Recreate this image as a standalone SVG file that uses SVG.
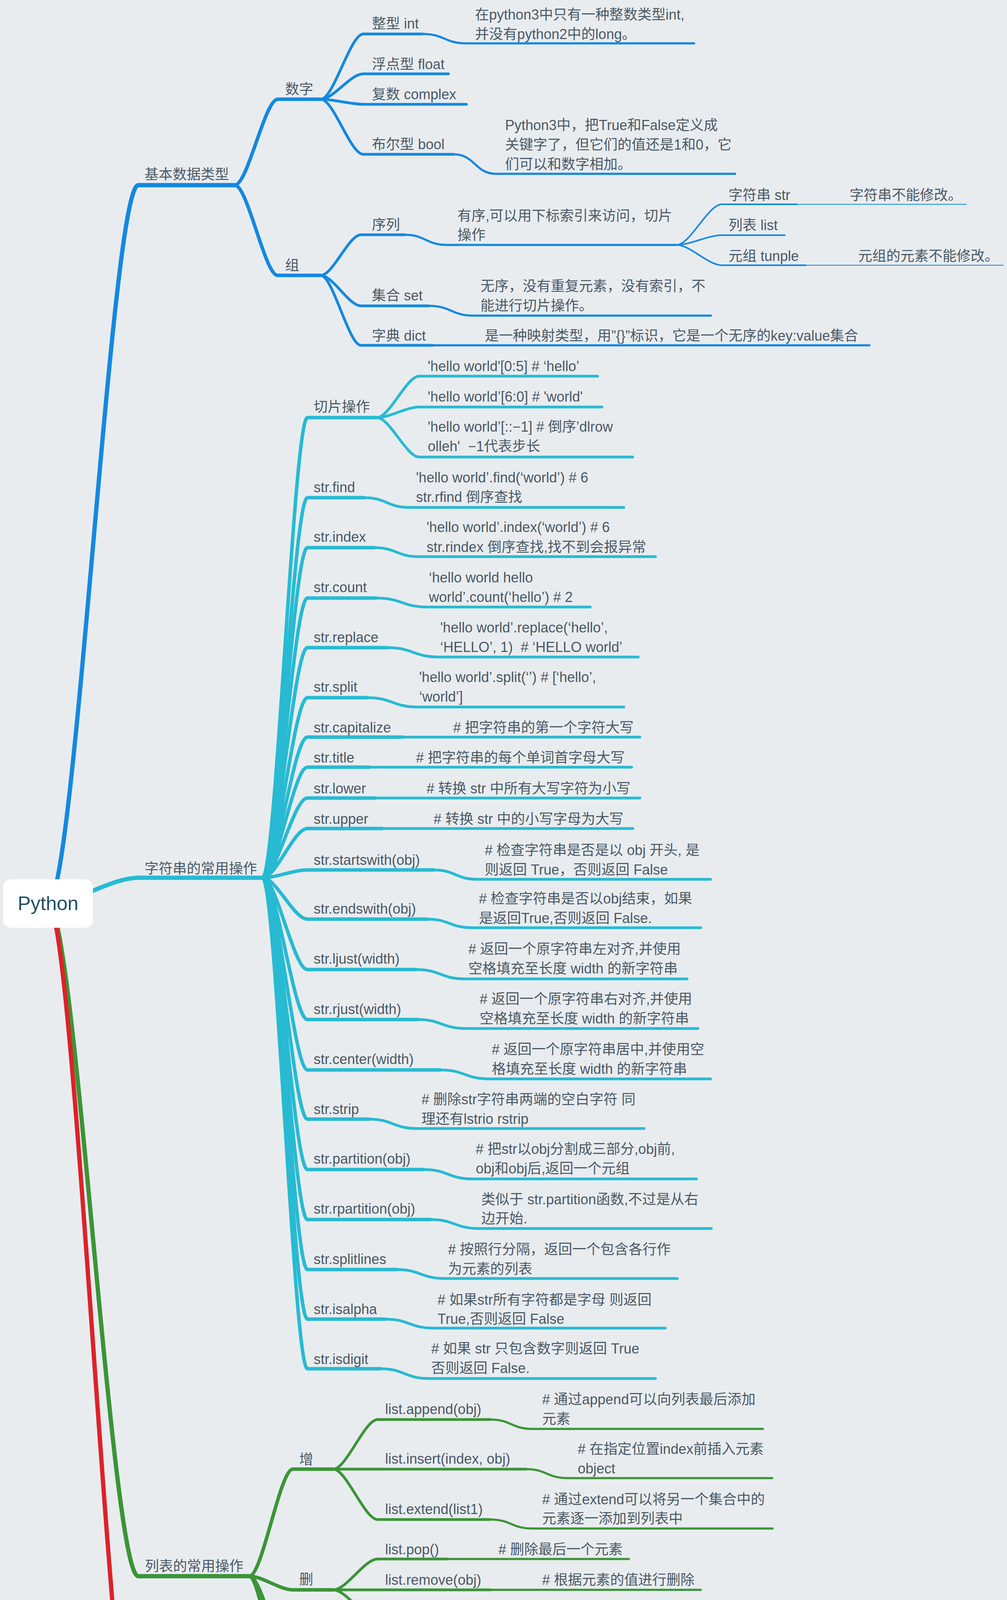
<svg xmlns="http://www.w3.org/2000/svg" width="2578" height="4626" viewBox="0 0 2578 4626">
<style>
.t{font-family:"Liberation Sans","Noto Sans CJK SC",sans-serif;font-size:36px;fill:#4a5864}
.root{font-family:"Liberation Sans","Noto Sans CJK SC",sans-serif;font-size:50px;fill:#1f5068}
path{fill:none;stroke-linecap:round;stroke-linejoin:round}
.b{stroke:#1488e0}.c{stroke:#27bad2}.g{stroke:#3b9436}.r{stroke:#de2129}
.w1{stroke-width:11}.w2{stroke-width:9}.w3{stroke-width:7}.w4{stroke-width:5.5}.w5{stroke-width:4}.w6{stroke-width:2.2}
</style>
<rect width="2578" height="4626" fill="#e8ecef"/>
<g id="connectors">
<path class="b w1" d="M123 2313 C192 2313 285 474 354 474 H601"/>
<path class="c w1" d="M123 2313 C192 2313 285 2247 354 2247 H672"/>
<path class="g w1" d="M123 2313 C192 2313 285 4035 354 4035 H638"/>
<path class="r w1" d="M123 2313 C192 2313 285 4578 354 4578 H853"/>
<path class="b w2" d="M601 474 C634 474 678 254 711 254 H821"/>
<path class="b w2" d="M601 474 C634 474 678 705 711 705 H821"/>
<path class="b w3" d="M821 254 C854 254 897 87 930 87 H1082"/>
<path class="b w4" d="M1082 87 C1138 87 1138 111 1194 111 H1777"/>
<path class="b w3" d="M821 254 C854 254 897 189 930 189 H1148"/>
<path class="b w3" d="M821 254 C854 254 897 267 930 267 H1194"/>
<path class="b w3" d="M821 254 C854 254 897 395 930 395 H1161"/>
<path class="b w4" d="M1161 395 C1216 395 1216 445 1270 445 H1882"/>
<path class="b w3" d="M821 705 C852 705 893 601 924 601 H1036"/>
<path class="b w4" d="M1036 601 C1090 601 1090 627 1144 627 H1732"/>
<path class="b w3" d="M821 705 C852 705 893 783 924 783 H1098"/>
<path class="b w4" d="M1098 783 C1155 783 1155 808 1213 808 H1820"/>
<path class="b w3" d="M821 705 C852 705 893 884 924 884 H1109"/>
<path class="b w4" d="M1109 884 H2226"/>
<path class="b w5" d="M1732 627 C1767 627 1813 523 1848 523 H2040"/>
<path class="b w6" d="M2040 523 H2474"/>
<path class="b w5" d="M1732 627 C1767 627 1813 602 1848 602 H2009"/>
<path class="b w5" d="M1732 627 C1767 627 1813 679 1848 679 H2063"/>
<path class="b w6" d="M2063 679 H2568"/>
<path class="c w2" d="M672 2247 C707 2247 752 1069 787 1069 H965"/>
<path class="c w3" d="M965 1069 C997 1069 1041 963 1073 963 H1530"/>
<path class="c w3" d="M965 1069 C997 1069 1041 1042 1073 1042 H1541"/>
<path class="c w3" d="M965 1069 C997 1069 1041 1170 1073 1170 H1620"/>
<path class="c w2" d="M672 2247 C707 2247 752 1274 787 1274 H932"/>
<path class="c w3" d="M932 1274 C990 1274 990 1299 1048 1299 H1597"/>
<path class="c w2" d="M672 2247 C707 2247 752 1402 787 1402 H958"/>
<path class="c w3" d="M958 1402 C1015 1402 1015 1425 1073 1425 H1678"/>
<path class="c w2" d="M672 2247 C707 2247 752 1531 787 1531 H963"/>
<path class="c w3" d="M963 1531 C1029 1531 1029 1554 1095 1554 H1511"/>
<path class="c w2" d="M672 2247 C707 2247 752 1658 787 1658 H992"/>
<path class="c w3" d="M992 1658 C1058 1658 1058 1682 1125 1682 H1634"/>
<path class="c w2" d="M672 2247 C707 2247 752 1786 787 1786 H940"/>
<path class="c w3" d="M940 1786 C1005 1786 1005 1810 1070 1810 H1597"/>
<path class="c w2" d="M672 2247 C707 2247 752 1887 787 1887 H1030"/>
<path class="c w3" d="M1030 1887 H1638"/>
<path class="c w2" d="M672 2247 C707 2247 752 1964 787 1964 H945"/>
<path class="c w3" d="M945 1964 H1617"/>
<path class="c w2" d="M672 2247 C707 2247 752 2043 787 2043 H960"/>
<path class="c w3" d="M960 2043 H1638"/>
<path class="c w2" d="M672 2247 C707 2247 752 2121 787 2121 H978"/>
<path class="c w3" d="M978 2121 H1620"/>
<path class="c w2" d="M672 2247 C707 2247 752 2227 787 2227 H1110"/>
<path class="c w3" d="M1110 2227 C1166 2227 1166 2251 1222 2251 H1819"/>
<path class="c w2" d="M672 2247 C707 2247 752 2353 787 2353 H1093"/>
<path class="c w3" d="M1093 2353 C1151 2353 1151 2375 1210 2375 H1794"/>
<path class="c w2" d="M672 2247 C707 2247 752 2482 787 2482 H1065"/>
<path class="c w3" d="M1065 2482 C1128 2482 1128 2506 1190 2506 H1759"/>
<path class="c w2" d="M672 2247 C707 2247 752 2610 787 2610 H1069"/>
<path class="c w3" d="M1069 2610 C1131 2610 1131 2633 1194 2633 H1787"/>
<path class="c w2" d="M672 2247 C707 2247 752 2739 787 2739 H1127"/>
<path class="c w3" d="M1127 2739 C1190 2739 1190 2762 1252 2762 H1819"/>
<path class="c w2" d="M672 2247 C707 2247 752 2865 787 2865 H944"/>
<path class="c w3" d="M944 2865 C1006 2865 1006 2889 1069 2889 H1649"/>
<path class="c w2" d="M672 2247 C707 2247 752 2994 787 2994 H1085"/>
<path class="c w3" d="M1085 2994 C1147 2994 1147 3018 1210 3018 H1783"/>
<path class="c w2" d="M672 2247 C707 2247 752 3122 787 3122 H1102"/>
<path class="c w3" d="M1102 3122 C1164 3122 1164 3145 1227 3145 H1821"/>
<path class="c w2" d="M672 2247 C707 2247 752 3250 787 3250 H1015"/>
<path class="c w3" d="M1015 3250 C1077 3250 1077 3273 1140 3273 H1734"/>
<path class="c w2" d="M672 2247 C707 2247 752 3377 787 3377 H986"/>
<path class="c w3" d="M986 3377 C1048 3377 1048 3400 1111 3400 H1703"/>
<path class="c w2" d="M672 2247 C707 2247 752 3504 787 3504 H974"/>
<path class="c w3" d="M974 3504 C1036 3504 1036 3529 1099 3529 H1678"/>
<path class="g w2" d="M638 4035 C672 4035 716 3761 750 3761 H853"/>
<path class="g w2" d="M638 4035 C672 4035 716 4070 750 4070 H853"/>
<path class="g w2" d="M638 4035 C672 4035 716 4265 750 4265 H853"/>
<path class="g w2" d="M638 4035 C672 4035 716 4422 750 4422 H853"/>
<path class="g w3" d="M853 3761 C887 3761 933 3634 967 3634 H1255"/>
<path class="g w4" d="M1255 3634 C1309 3634 1309 3658 1363 3658 H1953"/>
<path class="g w3" d="M853 3761 H1347"/>
<path class="g w4" d="M1347 3761 C1400 3761 1400 3784 1454 3784 H1977"/>
<path class="g w3" d="M853 3761 C887 3761 933 3890 967 3890 H1255"/>
<path class="g w4" d="M1255 3890 C1309 3890 1309 3913 1363 3913 H1978"/>
<path class="g w3" d="M853 4070 C887 4070 933 3991 967 3991 H1144"/>
<path class="g w4" d="M1144 3991 H1610"/>
<path class="g w3" d="M853 4070 H1256"/>
<path class="g w4" d="M1256 4070 H1794"/>
<path class="g w3" d="M853 4070 C887 4070 933 4147 967 4147 H1222"/>
<path class="g w4" d="M1222 4147 H1688"/>
<path class="g w3" d="M853 4265 C887 4265 933 4225 967 4225 H1075"/>
<path class="g w3" d="M853 4265 C887 4265 933 4304 967 4304 H1095"/>
<path class="g w3" d="M853 4422 C887 4422 933 4381 967 4381 H1145"/>
<path class="g w4" d="M1145 4381 H1833"/>
<path class="g w3" d="M853 4422 C887 4422 933 4459 967 4459 H1202"/>
<path class="g w4" d="M1202 4459 H1523"/>
<path class="r w2" d="M638 4578 H853"/>
<path class="r w3" d="M853 4578 C887 4578 933 4538 967 4538 H1168"/>
<path class="r w3" d="M853 4578 C887 4578 933 4615 967 4615 H1197"/>
</g>
<g id="node-python">
<rect x="8" y="2251" width="230" height="124" rx="20" fill="#ffffff"/>
<text class="root" x="123" y="2330" text-anchor="middle">Python</text>
</g>
<g id="node-basic"><text class="t" x="370" y="459">基本数据类型</text></g>
<g id="node-number"><text class="t" x="730" y="241">数字</text></g>
<g id="node-int">
<text class="t" x="952" y="73">整型 int</text>
<text class="t" x="1216" y="50">在python3中只有一种整数类型int,</text>
<text class="t" x="1216" y="100">并没有python2中的long。</text>
</g>
<g id="node-float"><text class="t" x="952" y="177">浮点型 float</text></g>
<g id="node-complex"><text class="t" x="952" y="254">复数 complex</text></g>
<g id="node-bool">
<text class="t" x="952" y="382">布尔型 bool</text>
<text class="t" x="1293" y="333">Python3中，把True和False定义成</text>
<text class="t" x="1293" y="383">关键字了，但它们的值还是1和0，它</text>
<text class="t" x="1293" y="433">们可以和数字相加。</text>
</g>
<g id="node-group"><text class="t" x="730" y="692">组</text></g>
<g id="node-seq">
<text class="t" x="952" y="588">序列</text>
<text class="t" x="1171" y="565">有序,可以用下标索引来访问，切片</text>
<text class="t" x="1171" y="614">操作</text>
</g>
<g id="node-str-type">
<text class="t" x="1865" y="512">字符串 str</text>
<text class="t" x="2175" y="512">字符串不能修改。</text>
</g>
<g id="node-list-type"><text class="t" x="1865" y="589">列表 list</text></g>
<g id="node-tuple-type">
<text class="t" x="1865" y="668">元组 tunple</text>
<text class="t" x="2197" y="668">元组的元素不能修改。</text>
</g>
<g id="node-set">
<text class="t" x="952" y="769">集合 set</text>
<text class="t" x="1230" y="745">无序，没有重复元素，没有索引，不</text>
<text class="t" x="1230" y="795">能进行切片操作。</text>
</g>
<g id="node-dict">
<text class="t" x="952" y="872">字典 dict</text>
<text class="t" x="1241" y="872">是一种映射类型，用”{}”标识，它是一个无序的key:value集合</text>
</g>
<g id="node-strops"><text class="t" x="370" y="2236">字符串的常用操作</text></g>
<g id="node-slice">
<text class="t" x="803" y="1054">切片操作</text>
<text class="t" x="1095" y="950">'hello world'[0:5] # ‘hello’</text>
<text class="t" x="1095" y="1028">'hello world’[6:0] # 'world'</text>
<text class="t" x="1095" y="1105">'hello world’[::−1] # 倒序’dlrow</text>
<text class="t" x="1095" y="1155" xml:space="preserve">olleh'  −1代表步长</text>
</g>
<g id="node-find">
<text class="t" x="803" y="1260">str.find</text>
<text class="t" x="1065" y="1235">'hello world’.find(‘world’) # 6</text>
<text class="t" x="1065" y="1285">str.rfind 倒序查找</text>
</g>
<g id="node-index">
<text class="t" x="803" y="1387">str.index</text>
<text class="t" x="1092" y="1362">'hello world’.index(‘world’) # 6</text>
<text class="t" x="1092" y="1413">str.rindex 倒序查找,找不到会报异常</text>
</g>
<g id="node-count">
<text class="t" x="803" y="1516">str.count</text>
<text class="t" x="1098" y="1491">‘hello world hello</text>
<text class="t" x="1098" y="1541">world’.count(‘hello’) # 2</text>
</g>
<g id="node-replace">
<text class="t" x="803" y="1644">str.replace</text>
<text class="t" x="1127" y="1619">'hello world’.replace(‘hello’,</text>
<text class="t" x="1127" y="1669" xml:space="preserve">‘HELLO’, 1)  # ‘HELLO world’</text>
</g>
<g id="node-split">
<text class="t" x="803" y="1771">str.split</text>
<text class="t" x="1073" y="1746">'hello world’.split(‘’) # [‘hello’,</text>
<text class="t" x="1073" y="1796">‘world’]</text>
</g>
<g id="node-capitalize">
<text class="t" x="803" y="1875">str.capitalize</text>
<text class="t" x="1160" y="1875"># 把字符串的第一个字符大写</text>
</g>
<g id="node-title">
<text class="t" x="803" y="1952">str.title</text>
<text class="t" x="1065" y="1952"># 把字符串的每个单词首字母大写</text>
</g>
<g id="node-lower">
<text class="t" x="803" y="2031">str.lower</text>
<text class="t" x="1092" y="2031"># 转换 str 中所有大写字符为小写</text>
</g>
<g id="node-upper">
<text class="t" x="803" y="2109">str.upper</text>
<text class="t" x="1110" y="2109"># 转换 str 中的小写字母为大写</text>
</g>
<g id="node-startswith">
<text class="t" x="803" y="2214">str.startswith(obj)</text>
<text class="t" x="1241" y="2189"># 检查字符串是否是以 obj 开头, 是</text>
<text class="t" x="1241" y="2239">则返回 True，否则返回 False</text>
</g>
<g id="node-endswith">
<text class="t" x="803" y="2339">str.endswith(obj)</text>
<text class="t" x="1226" y="2313"># 检查字符串是否以obj结束，如果</text>
<text class="t" x="1226" y="2363">是返回True,否则返回 False.</text>
</g>
<g id="node-ljust">
<text class="t" x="803" y="2467">str.ljust(width)</text>
<text class="t" x="1199" y="2442"># 返回一个原字符串左对齐,并使用</text>
<text class="t" x="1199" y="2492">空格填充至长度 width 的新字符串</text>
</g>
<g id="node-rjust">
<text class="t" x="803" y="2596">str.rjust(width)</text>
<text class="t" x="1228" y="2570"># 返回一个原字符串右对齐,并使用</text>
<text class="t" x="1228" y="2620">空格填充至长度 width 的新字符串</text>
</g>
<g id="node-center">
<text class="t" x="803" y="2724">str.center(width)</text>
<text class="t" x="1259" y="2699"># 返回一个原字符串居中,并使用空</text>
<text class="t" x="1259" y="2749">格填充至长度 width 的新字符串</text>
</g>
<g id="node-strip">
<text class="t" x="803" y="2852">str.strip</text>
<text class="t" x="1079" y="2827"># 删除str字符串两端的空白字符 同</text>
<text class="t" x="1079" y="2877">理还有lstrio rstrip</text>
</g>
<g id="node-partition">
<text class="t" x="803" y="2979">str.partition(obj)</text>
<text class="t" x="1218" y="2954"># 把str以obj分割成三部分,obj前,</text>
<text class="t" x="1218" y="3004">obj和obj后,返回一个元组</text>
</g>
<g id="node-rpartition">
<text class="t" x="803" y="3107">str.rpartition(obj)</text>
<text class="t" x="1232" y="3083">类似于 str.partition函数,不过是从右</text>
<text class="t" x="1232" y="3132">边开始.</text>
</g>
<g id="node-splitlines">
<text class="t" x="803" y="3236">str.splitlines</text>
<text class="t" x="1147" y="3211"># 按照行分隔，返回一个包含各行作</text>
<text class="t" x="1147" y="3261">为元素的列表</text>
</g>
<g id="node-isalpha">
<text class="t" x="803" y="3364">str.isalpha</text>
<text class="t" x="1120" y="3340"># 如果str所有字符都是字母 则返回</text>
<text class="t" x="1120" y="3389">True,否则返回 False</text>
</g>
<g id="node-isdigit">
<text class="t" x="803" y="3492">str.isdigit</text>
<text class="t" x="1104" y="3465"># 如果 str 只包含数字则返回 True</text>
<text class="t" x="1104" y="3515">否则返回 False.</text>
</g>
<g id="node-listops"><text class="t" x="371" y="4022">列表的常用操作</text></g>
<g id="node-add"><text class="t" x="766" y="3749">增</text></g>
<g id="node-append">
<text class="t" x="986" y="3620">list.append(obj)</text>
<text class="t" x="1388" y="3595"># 通过append可以向列表最后添加</text>
<text class="t" x="1388" y="3645">元素</text>
</g>
<g id="node-insert">
<text class="t" x="986" y="3747">list.insert(index, obj)</text>
<text class="t" x="1479" y="3722"># 在指定位置index前插入元素</text>
<text class="t" x="1479" y="3772">object</text>
</g>
<g id="node-extend">
<text class="t" x="986" y="3876">list.extend(list1)</text>
<text class="t" x="1388" y="3851"># 通过extend可以将另一个集合中的</text>
<text class="t" x="1388" y="3900">元素逐一添加到列表中</text>
</g>
<g id="node-del"><text class="t" x="766" y="4056">删</text></g>
<g id="node-pop">
<text class="t" x="986" y="3979">list.pop()</text>
<text class="t" x="1276" y="3979"># 删除最后一个元素</text>
</g>
<g id="node-remove">
<text class="t" x="986" y="4057">list.remove(obj)</text>
<text class="t" x="1388" y="4057"># 根据元素的值进行删除</text>
</g>
<g id="node-dellist">
<text class="t" x="986" y="4134">del list[index]</text>
<text class="t" x="1355" y="4134"># 根据下标进行删除</text>
</g>
<g id="node-find-list"><text class="t" x="766" y="4250">查</text></g>
<g id="node-in"><text class="t" x="986" y="4211">in</text></g>
<g id="node-notin"><text class="t" x="986" y="4290">not in</text></g>
<g id="node-sort-group"><text class="t" x="766" y="4408">排序</text></g>
<g id="node-sort">
<text class="t" x="986" y="4369">list.sort()</text>
<text class="t" x="1278" y="4369"># 倒序列表list.sort(reverse=True)</text>
</g>
<g id="node-reverse">
<text class="t" x="986" y="4447">list.reverse()</text>
<text class="t" x="1334" y="4447"># 逆置列表</text>
</g>
<g id="node-dictops"><text class="t" x="371" y="4565">字典的常用操作</text></g>
<g id="node-find-dict"><text class="t" x="766" y="4563">查</text></g>
<g id="node-keys"><text class="t" x="986" y="4526">dist.keys()</text></g>
<g id="node-values"><text class="t" x="986" y="4603">dist.values()</text></g>
</svg>
